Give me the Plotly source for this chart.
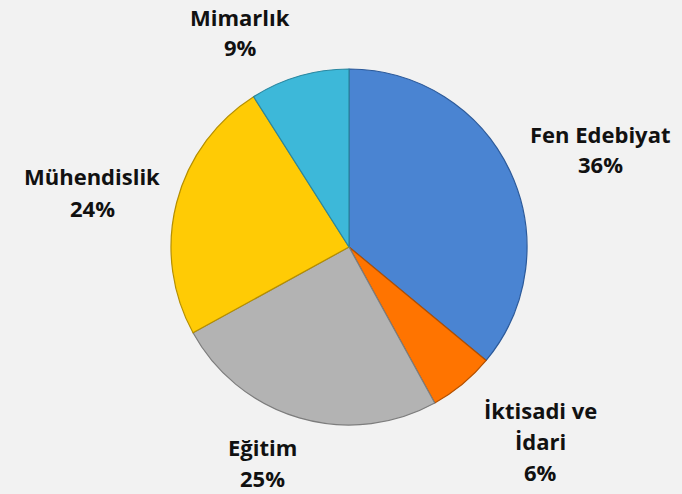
import plotly.graph_objects as go

labels = ["Fen Edebiyat", "İktisadi ve<br>İdari", "Eğitim", "Mühendislik", "Mimarlık"]
values = [36, 6, 25, 24, 9]
colors = ["#4a84d2", "#ff7400", "#b3b3b3", "#ffcb05", "#3db8d9"]
edge_colors = ["#2c5a9a", "#b35000", "#7d7d7d", "#b58f00", "#2a87a0"]

# label anchor points in pixels (centre of each text block)
label_px = [(600, 149), (540, 441), (262, 462), (92, 192), (240, 32)]

W, H = 682, 494
cx, cy, r = 349, 247, 178
line_gap = 31

fig = go.Figure(go.Pie(
    labels=labels,
    values=values,
    sort=False,
    direction="clockwise",
    rotation=0,
    textinfo="none",
    hoverinfo="label+percent",
    marker=dict(colors=colors, line=dict(color=edge_colors, width=1.2)),
    domain=dict(x=[(cx - r) / W, (cx + r) / W], y=[(H - cy - r) / H, (H - cy + r) / H]),
    showlegend=False,
))

total = sum(values)
annotations = []
for lab, v, (px, py) in zip(labels, values, label_px):
    lines = lab.split("<br>") + [f"{round(100 * v / total)}%"]
    n = len(lines)
    for i, t in enumerate(lines):
        ly = py + (i - (n - 1) / 2) * line_gap
        annotations.append(dict(
            x=px / W, y=1 - ly / H, xref="paper", yref="paper",
            text=f"<b>{t}</b>",
            showarrow=False, xanchor="center", yanchor="middle",
            font=dict(family="Open Sans", size=22, color="#111111"),
        ))

fig.update_layout(
    width=W, height=H,
    margin=dict(l=0, r=0, t=0, b=0),
    paper_bgcolor="#f2f2f2",
    plot_bgcolor="#f2f2f2",
    annotations=annotations,
)

fig.write_html("out.html", config={"displayModeBar": False},
               post_script="document.body.style.margin='0px';")
